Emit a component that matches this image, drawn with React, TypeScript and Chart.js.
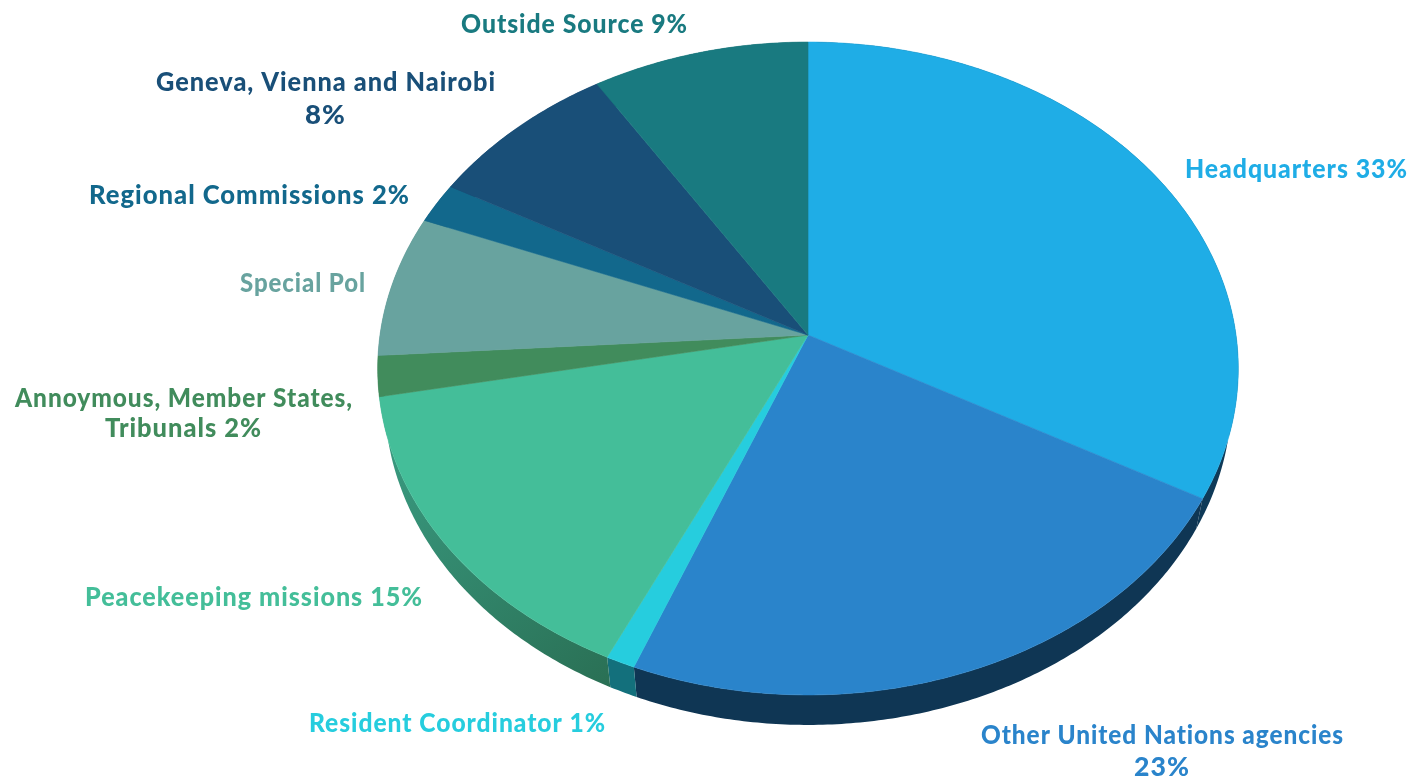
import React, { useEffect, useRef } from "react";
import { Chart, registerables } from "chart.js";

Chart.register(...registerables);

const categories = [
  "Headquarters",
  "Other United Nations agencies",
  "Resident Coordinator",
  "Peacekeeping missions",
  "Annoymous, Member States, Tribunals",
  "Special Pol",
  "Regional Commissions",
  "Geneva, Vienna and Nairobi",
  "Outside Source",
];
const shares = [33, 23, 1, 15, 2, 7, 2, 8, 9];
const topColors = ["#1FADE6", "#2A84CB", "#26CDDE", "#44BE99", "#418C5C", "#68A39F", "#12688C", "#194F78", "#197A80"];
const sideColors = ["#0F3A58", "#0F3654", "#13707C", "#2E8068", "#2F6E48", "#4C8480", "#0E4F6C", "#123A5A", "#125C60"];

// text, colour, left edge, right edge, baseline
const labelLines: [string, string, number, number, number][] = [
  ["Headquarters 33%", "#1FADE6", 1185, 1408, 178],
  ["Outside Source 9%", "#197A80", 461, 688, 33],
  ["Geneva, Vienna and Nairobi", "#194F78", 156, 496, 91],
  ["8%", "#194F78", 305, 346, 124],
  ["Regional Commissions 2%", "#12688C", 89, 410, 204],
  ["Special Pol", "#68A39F", 240, 366, 292],
  ["Annoymous, Member States,", "#418C5C", 15, 353, 407],
  ["Tribunals 2%", "#418C5C", 105, 262, 437],
  ["Peacekeeping missions 15%", "#44BE99", 85, 423, 606],
  ["Resident Coordinator 1%", "#26CDDE", 309, 606, 732],
  ["Other United Nations agencies", "#2A84CB", 981, 1344, 744],
  ["23%", "#2A84CB", 1134, 1190, 776],
];

const perspective = -0.1026;
const stretchX = 428 / 335;
const stretchY = 323 / 335;
const depth = 30;
const lowerRimScale = 0.984;

// Projects a point of the library's flat circle on to the tilted disc.
function project(arc: any, angle: number, r: number): [number, number] {
  const u = (Math.cos(angle) * r) / arc.outerRadius;
  const v = (Math.sin(angle) * r) / arc.outerRadius;
  const w = 1 + perspective * v;
  return [
    arc.x + (stretchX * arc.outerRadius * u) / w,
    arc.y + (stretchY * arc.outerRadius * v) / w,
  ];
}

function rim(arc: any): [number, number][] {
  const steps = Math.max(4, Math.ceil((arc.endAngle - arc.startAngle) / 0.01));
  const pts: [number, number][] = [];
  for (let i = 0; i <= steps; i++) {
    pts.push(project(arc, arc.startAngle + ((arc.endAngle - arc.startAngle) * i) / steps, arc.outerRadius));
  }
  return pts;
}

const tiltedPie = {
  id: "tiltedPie",
  beforeDatasetDraw(chart: any, args: any) {
    const ctx = chart.ctx as CanvasRenderingContext2D;
    const arcs = args.meta.data;
    ctx.save();
    arcs.forEach((arc: any, i: number) => {
      const pts = rim(arc);
      ctx.beginPath();
      pts.forEach((p, k) => (k ? ctx.lineTo(p[0], p[1]) : ctx.moveTo(p[0], p[1])));
      for (let k = pts.length - 1; k >= 0; k--) {
        ctx.lineTo(arc.x + (pts[k][0] - arc.x) * lowerRimScale, pts[k][1] + depth);
      }
      ctx.closePath();
      if (i === 3) {
        const g = ctx.createLinearGradient(385, 420, 610, 680);
        g.addColorStop(0, "#3A9C82");
        g.addColorStop(1, "#2A7055");
        ctx.fillStyle = g;
      } else {
        ctx.fillStyle = sideColors[i];
      }
      ctx.fill();
    });
    arcs.forEach((arc: any, i: number) => {
      const pts = rim(arc);
      const c = project(arc, 0, 0);
      ctx.beginPath();
      ctx.moveTo(c[0], c[1]);
      pts.forEach((p) => ctx.lineTo(p[0], p[1]));
      ctx.closePath();
      ctx.fillStyle = topColors[i];
      ctx.strokeStyle = topColors[i];
      ctx.lineWidth = 0.6;
      ctx.fill();
      ctx.stroke();
    });
    ctx.restore();
    return false;
  },
  afterDraw(chart: any) {
    const ctx = chart.ctx as CanvasRenderingContext2D;
    ctx.font = "900 26px Lato";
    ctx.textAlign = "left";
    ctx.textBaseline = "alphabetic";
    (ctx as any).letterSpacing = "1px";
    labelLines.forEach(([text, color, left, right, base]) => {
      const w = ctx.measureText(text).width;
      ctx.save();
      ctx.translate(left, base);
      ctx.scale((right - left) / w, 1);
      ctx.fillStyle = color;
      ctx.fillText(text, 0, 0);
      ctx.restore();
    });
    (ctx as any).letterSpacing = "0px";
  },
};

export default function App() {
  const ref = useRef<HTMLCanvasElement>(null);
  useEffect(() => {
    document.body.style.margin = "0";
    const chart = new Chart(ref.current as HTMLCanvasElement, {
      type: "pie",
      data: {
        labels: categories,
        datasets: [{ data: shares, backgroundColor: topColors, borderWidth: 0 }],
      },
      options: {
        responsive: false,
        animation: false,
        layout: { padding: { left: 202, right: 0, top: 0, bottom: 111 } },
        plugins: { legend: { display: false }, tooltip: { enabled: false } },
      },
      plugins: [tiltedPie],
    } as any);
    return () => chart.destroy();
  }, []);
  return (
    <div style={{ width: 1414, height: 781, overflow: "hidden" }}>
      <canvas ref={ref} width={1414} height={781} style={{ display: "block" }} />
    </div>
  );
}
